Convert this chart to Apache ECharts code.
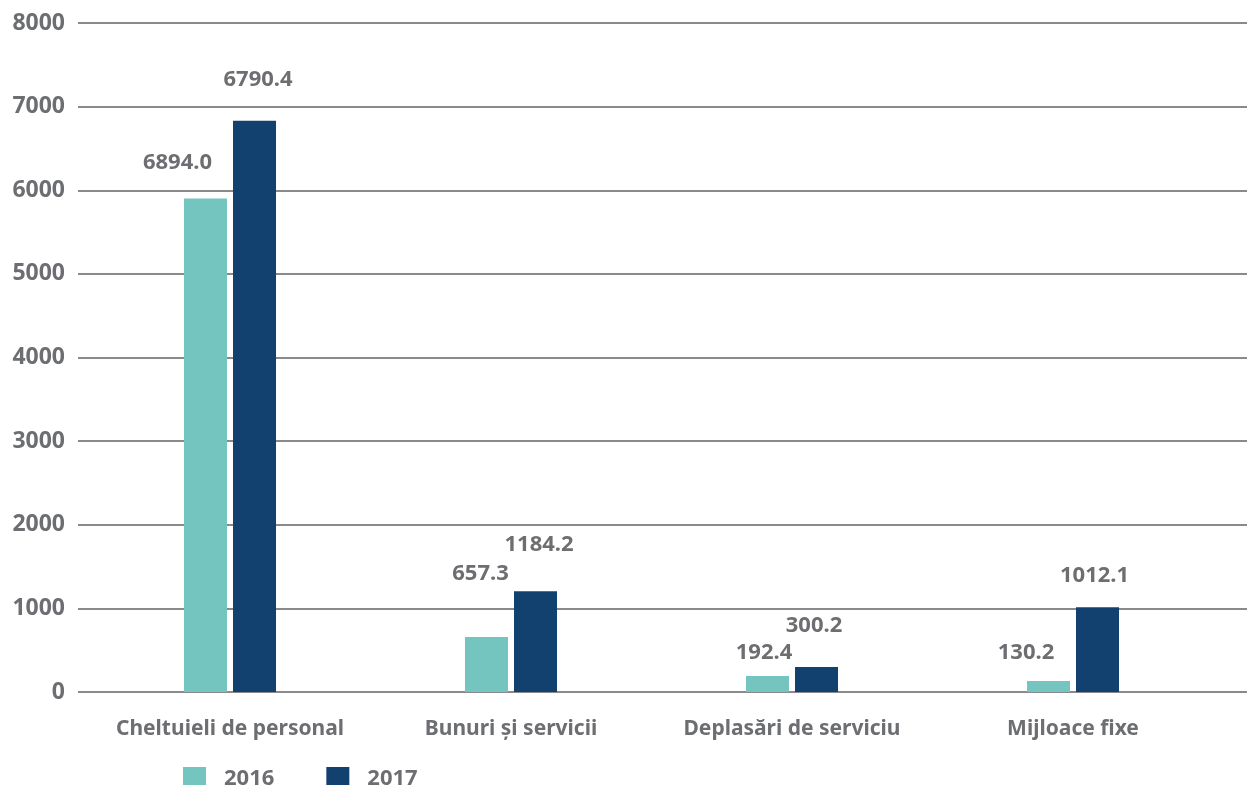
<!DOCTYPE html>
<html>
<head>
<meta charset="utf-8">
<script src="https://cdn.jsdelivr.net/npm/echarts@6/dist/echarts.min.js"></script>
<style>
html,body{margin:0;padding:0;background:#fff;}
#chart{width:1247px;height:785px;}
</style>
</head>
<body>
<div id="chart"></div>
<script>
// ---- data ----
const categories = ['Cheltuieli de personal', 'Bunuri și servicii', 'Deplasări de serviciu', 'Mijloace fixe'];
const seriesNames = ['2016', '2017'];
const values2016 = [5900, 657.3, 192.4, 130.2];
const values2017 = [6830, 1205, 300.2, 1012.1];
const labels2016 = ['6894.0', '657.3', '192.4', '130.2'];
const labels2017 = ['6790.4', '1184.2', '300.2', '1012.1'];
const yTicks = [0, 1000, 2000, 3000, 4000, 5000, 6000, 7000, 8000];

// ---- layout (label nudges, px) ----
const nudge2016 = [[-28, -26], [-6, -53], [-3.5, -13], [-22.5, -18]];
const nudge2017 = [[3.5, -31], [3.5, -36], [-2.5, -31], [-3, -22]];

const textColor = '#6d6e71';
const gridColor = '#8a8a8d';
const fontFamily = '"Noto Sans", sans-serif';

function buildData(vals, nudges) {
  return vals.map((v, i) => ({ value: v, label: { offset: nudges[i] } }));
}
function labelFmt(texts) {
  return p => texts[p.dataIndex];
}

const chart = echarts.init(document.getElementById('chart'), null, { renderer: 'canvas' });
const yMin = yTicks[0], yMax = yTicks[yTicks.length - 1], yStep = yTicks[1] - yTicks[0];

chart.setOption({
  animation: false,
  backgroundColor: '#ffffff',
  grid: [
    { left: 78, right: 0, top: 23, bottom: 93 },
    { left: 89.5, right: 33.5, top: 23, bottom: 93 }
  ],
  xAxis: [
    { gridIndex: 0, type: 'category', data: categories, show: false },
    {
      gridIndex: 1, type: 'category', data: categories,
      axisLine: { show: false }, axisTick: { show: false },
      axisLabel: { color: textColor, fontFamily: fontFamily, fontWeight: 'bold', fontSize: 21, margin: 27, interval: 0 }
    }
  ],
  yAxis: [
    {
      gridIndex: 0, type: 'value', min: yMin, max: yMax, interval: yStep,
      axisLine: { show: false }, axisTick: { show: false },
      splitLine: { lineStyle: { color: gridColor, width: 2 } },
      axisLabel: { color: textColor, fontFamily: fontFamily, fontWeight: 'bold', fontSize: 23, margin: 13,
        formatter: v => String(v) }
    },
    {
      gridIndex: 1, type: 'value', min: yMin, max: yMax, interval: yStep,
      show: false, splitLine: { show: false }
    }
  ],
  legend: {
    left: 183, top: 767, padding: 0,
    itemWidth: 23, itemHeight: 23, itemGap: 52,
    icon: 'rect',
    data: seriesNames,
    textStyle: { color: textColor, fontFamily: fontFamily, fontWeight: 'bold', fontSize: 22, padding: [0, 0, 8, 13] }
  },
  series: [
    {
      name: seriesNames[0], type: 'bar', xAxisIndex: 1, yAxisIndex: 1,
      barWidth: 43, barGap: '14%',
      itemStyle: { color: '#74c4bf' },
      data: buildData(values2016, nudge2016),
      label: { show: true, position: 'top', distance: 0, formatter: labelFmt(labels2016),
        color: textColor, fontFamily: fontFamily, fontWeight: 'bold', fontSize: 22, lineHeight: 20 }
    },
    {
      name: seriesNames[1], type: 'bar', xAxisIndex: 1, yAxisIndex: 1,
      barWidth: 43, barGap: '14%',
      itemStyle: { color: '#12406f' },
      data: buildData(values2017, nudge2017),
      label: { show: true, position: 'top', distance: 0, formatter: labelFmt(labels2017),
        color: textColor, fontFamily: fontFamily, fontWeight: 'bold', fontSize: 22, lineHeight: 20 }
    }
  ]
});
</script>
</body>
</html>
